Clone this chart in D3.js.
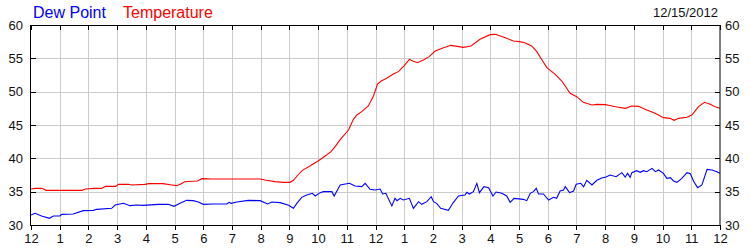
<!DOCTYPE html>
<html><head><meta charset="utf-8">
<script src="https://cdn.jsdelivr.net/npm/d3@7"></script>
<style>html,body{margin:0;padding:0;background:#fff;}svg{display:block;}</style>
</head><body>
<svg id="chart" width="750" height="250"></svg>
<script>
const xTickLabels = ["12","1","2","3","4","5","6","7","8","9","10","11","12","1","2","3","4","5","6","7","8","9","10","11","12"];
const yTicks = [30,35,40,45,50,55,60];
const dateLabel = "12/15/2012";
const seriesNames = ["Dew Point","Temperature"];

const tempHours = [0,0.15,0.35,0.45,0.52,1.0,1.77,1.9,2.2,2.46,2.6,2.95,3.05,3.4,3.5,3.97,4.1,4.6,4.9,5.07,5.2,5.35,5.8,5.95,6.3,7.0,7.98,8.2,8.5,8.8,9.02,9.14,9.3,9.45,9.7,10.0,10.2,10.45,10.6,10.77,11.06,11.23,11.35,11.52,11.75,11.93,12.07,12.2,12.39,12.62,12.8,13.0,13.18,13.3,13.46,13.67,13.87,14.08,14.37,14.62,14.85,15.06,15.33,15.64,15.99,16.17,16.35,16.57,16.8,17.02,17.2,17.44,17.62,17.8,17.97,18.26,18.49,18.78,19.01,19.24,19.54,19.71,20.0,20.2,20.41,20.7,20.93,21.16,21.45,21.74,22.03,22.26,22.4,22.56,22.85,23.02,23.25,23.46,23.66,23.83,24];
const tempValues = [35.4,35.5,35.5,35.4,35.2,35.2,35.2,35.4,35.5,35.5,35.8,35.8,36.1,36.1,36.0,36.1,36.2,36.2,36.0,35.9,36.1,36.5,36.6,36.95,36.9,36.9,36.9,36.7,36.5,36.4,36.4,36.7,37.5,38.2,38.8,39.6,40.2,41.0,41.8,42.8,44.25,45.85,46.5,47.0,47.85,49.35,51.15,51.6,52.0,52.65,53.0,53.9,54.85,54.6,54.35,54.75,55.25,56.1,56.6,56.95,56.8,56.65,56.85,57.85,58.55,58.6,58.35,58.0,57.6,57.5,57.35,56.85,56.0,54.75,53.6,52.6,51.6,49.75,49.25,48.4,48.0,48.1,48.05,47.9,47.7,47.5,47.85,47.8,47.25,46.75,46.1,46.0,45.7,46.0,46.15,46.5,47.75,48.4,48.1,47.75,47.5];

const dewHours = [0,0.14,0.37,0.64,0.78,1.01,1.07,1.47,1.82,2.17,2.29,2.81,2.93,3.22,3.45,3.68,3.91,4.44,4.78,4.98,5.19,5.42,5.65,5.83,6.0,6.35,6.82,6.9,6.97,7.17,7.57,7.98,8.24,8.39,8.68,8.97,9.14,9.26,9.43,9.6,9.72,9.8,9.9,10.07,10.19,10.48,10.56,10.77,11.09,11.29,11.52,11.64,11.81,11.99,12.16,12.25,12.36,12.57,12.68,12.75,12.86,12.97,13.18,13.32,13.5,13.61,13.79,13.94,14.02,14.13,14.27,14.54,14.69,14.89,15.12,15.18,15.27,15.41,15.53,15.62,15.78,15.94,16.09,16.2,16.4,16.57,16.69,16.83,17.15,17.27,17.39,17.5,17.6,17.68,17.85,18.03,18.2,18.31,18.43,18.55,18.61,18.76,18.9,18.99,19.15,19.25,19.36,19.54,19.71,19.88,20.03,20.17,20.38,20.58,20.7,20.78,20.87,20.93,21.1,21.22,21.33,21.45,21.63,21.75,21.86,22.03,22.15,22.27,22.38,22.5,22.67,22.85,22.97,23.08,23.22,23.37,23.55,23.72,23.89,24];
const dewValues = [31.5,31.75,31.35,31.0,31.35,31.35,31.6,31.65,32.15,32.2,32.35,32.5,33.0,33.25,32.9,33.0,32.95,33.1,33.1,32.8,33.25,33.7,33.65,33.45,33.1,33.15,33.15,33.4,33.25,33.45,33.7,33.65,33.15,33.45,33.35,32.95,32.5,33.25,34.15,34.5,34.65,34.75,34.35,34.85,35.0,35.0,34.35,36.0,36.25,35.85,35.75,36.25,35.35,35.25,35.4,34.65,34.75,32.85,34.0,33.65,34.0,33.75,34.0,32.5,33.5,33.1,33.5,34.25,33.5,33.25,32.5,32.2,33.25,34.35,34.5,34.9,34.65,35.0,36.25,34.85,35.75,35.6,34.35,34.95,34.75,34.35,33.4,34.0,33.85,33.65,34.75,35.0,35.5,34.65,34.65,33.75,34.15,34.0,35.1,35.25,35.75,34.85,35.1,36.1,36.25,35.75,36.7,36.0,36.7,37.05,37.2,37.5,37.25,37.85,37.2,37.75,37.15,37.85,38.15,37.9,38.15,38.0,38.5,38.0,38.25,37.75,37.0,37.1,36.6,36.4,37.0,37.85,37.7,36.55,35.6,36.0,38.35,38.25,38.0,37.75];

const L = 31, R = 720, T = 25, B = 225;
const x = d3.scaleLinear().domain([0, 24]).range([L, R]);
const y = d3.scaleLinear().domain([30, 60]).range([B, T]);
const svg = d3.select("#chart");
const font = "Arial, 'Liberation Sans', sans-serif";
const hourTicks = d3.range(0, 25);

// vertical gridlines
svg.append("g").selectAll("line").data(hourTicks.slice(1, -1)).join("line")
  .attr("x1", d => Math.round(x(d)) + 0.5).attr("x2", d => Math.round(x(d)) + 0.5)
  .attr("y1", T).attr("y2", B).attr("stroke", "#cccccc").attr("stroke-width", 1);
// horizontal gridlines
svg.append("g").selectAll("line").data(yTicks.slice(1, -1)).join("line")
  .attr("x1", L).attr("x2", R)
  .attr("y1", d => Math.round(y(d)) + 0.5).attr("y2", d => Math.round(y(d)) + 0.5)
  .attr("stroke", "#cccccc").attr("stroke-width", 1);

// ticks
const tk = svg.append("g").attr("stroke", "#000").attr("stroke-width", 1);
tk.selectAll(".tt").data(hourTicks).join("line")
  .attr("x1", d => Math.round(x(d)) + 0.5).attr("x2", d => Math.round(x(d)) + 0.5)
  .attr("y1", T).attr("y2", T + 5);
tk.selectAll(".bt").data(hourTicks).join("line").attr("class","bt")
  .attr("x1", d => Math.round(x(d)) + 0.5).attr("x2", d => Math.round(x(d)) + 0.5)
  .attr("y1", B).attr("y2", B + 5);
tk.selectAll(".lt").data(yTicks).join("line").attr("class","lt")
  .attr("x1", L).attr("x2", L + 5)
  .attr("y1", d => Math.round(y(d)) + 0.5).attr("y2", d => Math.round(y(d)) + 0.5);
tk.selectAll(".rt").data(yTicks).join("line").attr("class","rt")
  .attr("x1", R - 5).attr("x2", R)
  .attr("y1", d => Math.round(y(d)) + 0.5).attr("y2", d => Math.round(y(d)) + 0.5);

// lines
const line = d3.line().x(d => x(d[0])).y(d => y(d[1]));
svg.append("path").datum(tempHours.map((h, i) => [h, tempValues[i]]))
  .attr("d", line).attr("fill", "none").attr("stroke", "#ff0000").attr("stroke-width", 1.1);
svg.append("path").datum(dewHours.map((h, i) => [h, dewValues[i]]))
  .attr("d", line).attr("fill", "none").attr("stroke", "#0000ff").attr("stroke-width", 1.1);

// frame
svg.append("rect").attr("x", L - 0.5).attr("y", T + 0.5).attr("width", R - L + 0.5).attr("height", B - T)
  .attr("fill", "none").attr("stroke", "#000").attr("stroke-width", 1);

// labels
svg.append("g").selectAll("text").data(yTicks).join("text")
  .attr("x", 23).attr("y", d => y(d) + 4.5).attr("text-anchor", "end")
  .attr("font-family", font).attr("font-size", 13).attr("fill", "#111").text(d => d);
svg.append("g").selectAll("text").data(yTicks).join("text")
  .attr("x", 725).attr("y", d => y(d) + 4.5).attr("text-anchor", "start")
  .attr("font-family", font).attr("font-size", 13).attr("fill", "#111").text(d => d);
svg.append("g").selectAll("text").data(hourTicks).join("text")
  .attr("x", d => x(d) + 0.5).attr("y", 243).attr("text-anchor", "middle")
  .attr("font-family", font).attr("font-size", 13).attr("fill", "#111").text((d, i) => xTickLabels[i]);

svg.append("text").attr("x", 33).attr("y", 17.5).attr("font-family", font).attr("font-size", 16)
  .attr("fill", "#0000ff").text(seriesNames[0]);
svg.append("text").attr("x", 123).attr("y", 17.5).attr("font-family", font).attr("font-size", 16)
  .attr("fill", "#ff0000").text(seriesNames[1]);
svg.append("text").attr("x", 718).attr("y", 16.5).attr("text-anchor", "end").attr("font-family", font)
  .attr("font-size", 13).attr("fill", "#111").text(dateLabel);
</script>
</body></html>
